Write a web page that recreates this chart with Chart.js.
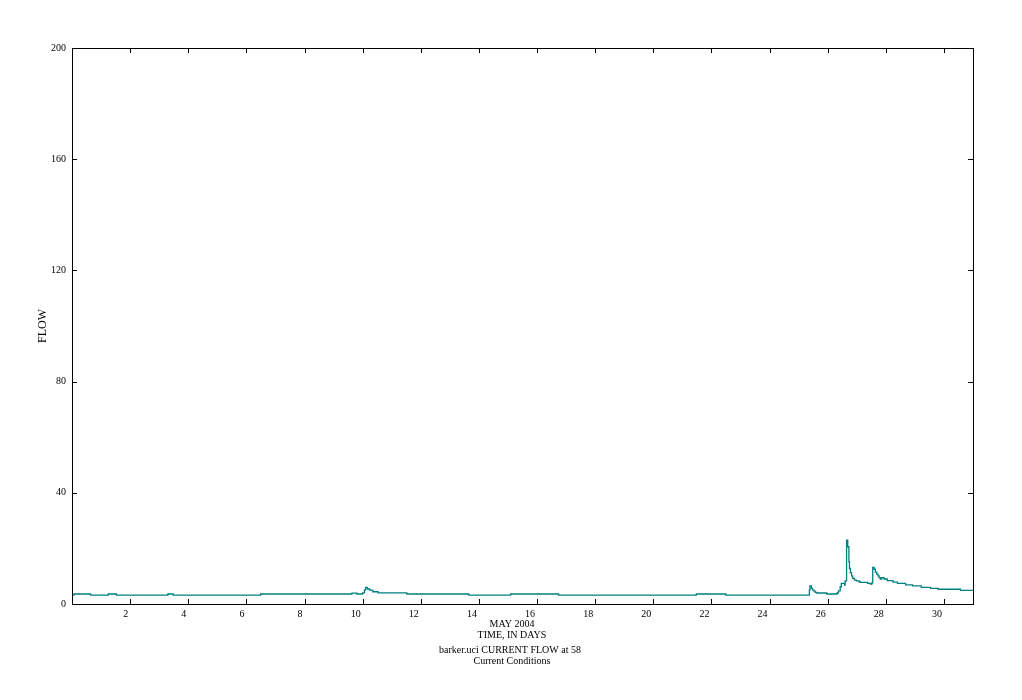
<!DOCTYPE html>
<html>
<head>
<meta charset="utf-8">
<title>barker.uci CURRENT FLOW at 58</title>
<script src="https://cdn.jsdelivr.net/npm/chart.js@4.4.1/dist/chart.umd.min.js"></script>
<style>
  html, body { margin: 0; padding: 0; background: #ffffff; }
  #wrap { width: 1022px; height: 700px; }
</style>
</head>
<body>
<div id="wrap"><canvas id="flow-chart" width="1022" height="700"></canvas></div>
<script>
// Time in days since May 1 2004, and the flow from that moment on (step series)
const days = [
  0, 0.07, 0.64, 1.25, 1.53, 3.30, 3.48, 6.49, 9.63, 9.80,
  10.00, 10.06, 10.10, 10.16, 10.24, 10.35, 10.53, 11.52, 13.65, 15.09,
  16.74, 21.48, 22.50, 25.37, 25.39, 25.44, 25.48, 25.53, 25.57, 25.63,
  25.97, 26.32, 26.37, 26.43, 26.47, 26.58, 26.60, 26.65, 26.69, 26.73,
  26.75, 26.78, 26.82, 26.86, 26.92, 26.99, 27.08, 27.12, 27.37, 27.47,
  27.52, 27.55, 27.60, 27.64, 27.69, 27.73, 27.77, 27.81, 27.86, 27.94,
  28.05, 28.25, 28.40, 28.68, 28.92, 29.22, 29.54, 29.80, 30.57, 31.00
];
const flow = [
  3.2, 3.6, 3.2, 3.6, 3.2, 3.6, 3.2, 3.6, 3.9, 3.6,
  4.0, 5.0, 6.0, 5.4, 5.0, 4.4, 4.0, 3.6, 3.2, 3.6,
  3.2, 3.6, 3.2, 5.0, 6.5, 5.6, 5.0, 4.6, 4.2, 3.95,
  3.6, 3.95, 4.7, 6.2, 7.4, 6.8, 8.3, 23.0, 20.6, 15.2,
  12.8, 11.3, 10.1, 9.2, 8.6, 8.3, 8.0, 7.8, 7.4, 7.2,
  7.6, 13.2, 12.5, 11.5, 10.7, 10.1, 9.5, 9.0, 9.5, 9.0,
  8.4, 7.9, 7.4, 6.9, 6.5, 6.0, 5.6, 5.3, 4.9, 4.9
];
const xTicks = [2, 4, 6, 8, 10, 12, 14, 16, 18, 20, 22, 24, 26, 28, 30];
const yTicks = [0, 40, 80, 120, 160, 200];
const axisTitleX = ['MAY 2004', 'TIME, IN DAYS'];
const caption = ['barker.uci CURRENT FLOW at 58', 'Current Conditions'];

const FONT = '"Liberation Serif", "DejaVu Serif", serif';

// frame, inward tick marks on all four sides, and the texts under the plot
const frameTicks = {
  id: 'frameTicks',
  afterDraw(chart) {
    const { ctx, chartArea: a, scales } = chart;
    const x = scales.x, y = scales.y;
    const len = 5;
    ctx.save();
    ctx.strokeStyle = '#000000';
    ctx.lineWidth = 1;
    ctx.strokeRect(a.left + 0.5, a.top + 0.5, a.right - a.left, a.bottom - a.top);
    ctx.beginPath();
    x.ticks.forEach(t => {
      const px = Math.round(x.getPixelForValue(t.value)) + 0.5;
      ctx.moveTo(px, a.bottom);
      ctx.lineTo(px, a.bottom - len);
      ctx.moveTo(px, a.top);
      ctx.lineTo(px, a.top + len);
    });
    y.ticks.forEach(t => {
      const py = Math.round(y.getPixelForValue(t.value)) + 0.5;
      ctx.moveTo(a.left, py);
      ctx.lineTo(a.left + len, py);
      ctx.moveTo(a.right, py);
      ctx.lineTo(a.right - len, py);
    });
    ctx.stroke();

    ctx.fillStyle = '#000000';
    ctx.font = '10px ' + FONT;
    ctx.textAlign = 'center';
    ctx.textBaseline = 'middle';
    const cx = chart.width / 2 + 1;
    ctx.fillText(axisTitleX[0], cx, 624);
    ctx.fillText(axisTitleX[1], cx, 635);
    ctx.fillText(caption[0], cx - 2, 650);
    ctx.fillText(caption[1], cx, 661);
    ctx.restore();
  }
};

const points = days.map((d, i) => ({ x: d, y: flow[i] }));

new Chart(document.getElementById('flow-chart').getContext('2d'), {
  type: 'line',
  data: {
    datasets: [{
      label: 'FLOW',
      data: points,
      borderColor: '#008080',
      borderWidth: 1.3,
      pointRadius: 0,
      stepped: true,
      fill: false
    }]
  },
  options: {
    responsive: false,
    animation: false,
    layout: { padding: { left: 0, top: 48, right: 49, bottom: 0 } },
    plugins: {
      legend: { display: false },
      tooltip: { enabled: false }
    },
    scales: {
      x: {
        type: 'linear',
        min: 0,
        max: 31,
        grid: { display: false, drawTicks: false },
        border: { display: false },
        afterBuildTicks: (scale) => { scale.ticks = xTicks.map(v => ({ value: v })); },
        afterFit: (scale) => { scale.height = 96; },
        ticks: {
          color: '#000000',
          font: { family: FONT, size: 10 },
          padding: 4,
          align: 'end',
          labelOffset: -2,
          maxRotation: 0,
          autoSkip: false
        }
      },
      y: {
        type: 'linear',
        min: 0,
        max: 200,
        grid: { display: false, drawTicks: false },
        border: { display: false },
        afterBuildTicks: (scale) => { scale.ticks = yTicks.map(v => ({ value: v })); },
        afterFit: (scale) => { scale.width = 72; },
        ticks: {
          color: '#000000',
          font: { family: FONT, size: 10 },
          padding: 6
        },
        title: {
          display: true,
          text: 'FLOW',
          color: '#000000',
          font: { family: FONT, size: 12 },
          padding: { top: 36, bottom: 0 }
        }
      }
    }
  },
  plugins: [frameTicks]
});
</script>
</body>
</html>
